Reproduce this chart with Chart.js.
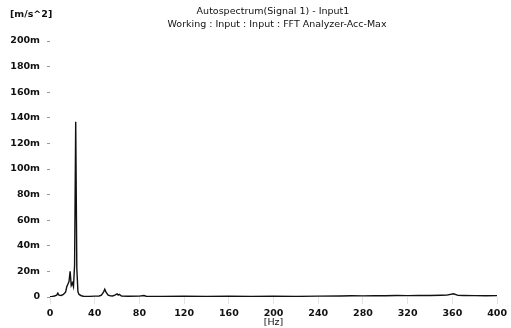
<!DOCTYPE html>
<html>
<head>
<meta charset="utf-8">
<script src="https://cdn.jsdelivr.net/npm/chart.js@4"></script>
<style>
  html, body { margin: 0; padding: 0; background: #fff; }
  #wrap { width: 511px; height: 328px; }
</style>
</head>
<body>
<div id="wrap"><canvas id="spectrum"></canvas></div>
<script>
// frequency [Hz] and amplitude [m/s^2, shown in milli]
const freqs = [0, 2, 4, 6, 7, 8, 10, 12, 14, 15, 16, 17, 18, 19, 20, 21, 22, 23, 24, 25, 26, 28, 30, 35, 40, 44, 46, 48, 49, 50, 52, 54, 56, 58, 60, 61, 62, 64, 70, 80, 84, 86, 100, 120, 140, 160, 180, 200, 220, 240, 260, 270, 280, 290, 300, 310, 320, 330, 340, 350, 355, 361, 365, 370, 380, 390, 400];
const amps = [0.3, 0.5, 0.8, 1.5, 3, 1.5, 1.2, 2, 4, 8, 10, 12, 20, 9, 11, 8, 25, 137, 22, 4, 2, 1, 0.6, 0.5, 0.7, 0.8, 1.5, 4, 6, 4, 1.5, 1, 0.8, 1.5, 2.5, 1.5, 2, 0.8, 0.6, 0.7, 1.2, 0.6, 0.5, 0.6, 0.5, 0.6, 0.5, 0.6, 0.5, 0.7, 0.8, 1.0, 0.9, 1.1, 1.0, 1.2, 1.1, 1.3, 1.2, 1.4, 1.5, 2.5, 1.3, 1.2, 1.1, 1.0, 1.1];
const xTicks = [0, 40, 80, 120, 160, 200, 240, 280, 320, 360, 400];
const yTicks = [0, 20, 40, 60, 80, 100, 120, 140, 160, 180, 200];

const font = { family: 'DejaVu Sans', size: 9.5, weight: 'bold' };

// header texts: unit label and the two title lines
const header = {
    id: 'header',
    afterDraw(chart) {
        const c = chart.ctx;
        c.save();
        c.fillStyle = '#111';
        c.textBaseline = 'middle';
        c.font = 'bold 9.5px "DejaVu Sans"';
        c.textAlign = 'left';
        c.fillText('[m/s^2]', 10, 15);
        c.font = '9.5px "DejaVu Sans"';
        c.textAlign = 'center';
        c.fillText('Autospectrum(Signal 1) - Input1', 273, 12);
        c.fillText('Working : Input : Input : FFT Analyzer-Acc-Max', 277, 25);
        c.restore();
    }
};

const ctx = document.getElementById('spectrum').getContext('2d');
new Chart(ctx, {
    type: 'line',
    data: {
        datasets: [{
            data: freqs.map((f, i) => ({ x: f, y: amps[i] })),
            borderColor: '#111',
            borderWidth: 1.4,
            pointRadius: 0,
            tension: 0
        }]
    },
    options: {
        responsive: true,
        maintainAspectRatio: false,
        animation: false,
        layout: { padding: { left: 0, right: 8, top: 41, bottom: 0 } },
        plugins: {
            legend: { display: false },
            tooltip: { enabled: false }
        },
        scales: {
            x: {
                type: 'linear',
                min: 0,
                max: 400,
                afterBuildTicks: s => { s.ticks = xTicks.map(v => ({ value: v })); },
                afterFit: s => { s.height = 31; },
                ticks: { color: '#111', font: font, maxRotation: 0, padding: 4 },
                grid: { drawOnChartArea: false, tickLength: 7, color: '#e4e4e4' },
                border: { display: false },
                title: {
                    display: true, text: '[Hz]', color: '#111',
                    font: { family: 'DejaVu Sans', size: 9.5, weight: 'normal' },
                    padding: { top: -9, bottom: 0 }
                }
            },
            y: {
                min: 0,
                max: 200,
                afterBuildTicks: s => { s.ticks = yTicks.map(v => ({ value: v })); },
                afterFit: s => { s.width = 50; },
                ticks: {
                    color: '#111', font: font, padding: 7,
                    callback: v => v === 0 ? '0' : v + 'm'
                },
                grid: { drawOnChartArea: false, tickLength: 3, color: '#999' },
                border: { display: false }
            }
        }
    },
    plugins: [header]
});
</script>
</body>
</html>
